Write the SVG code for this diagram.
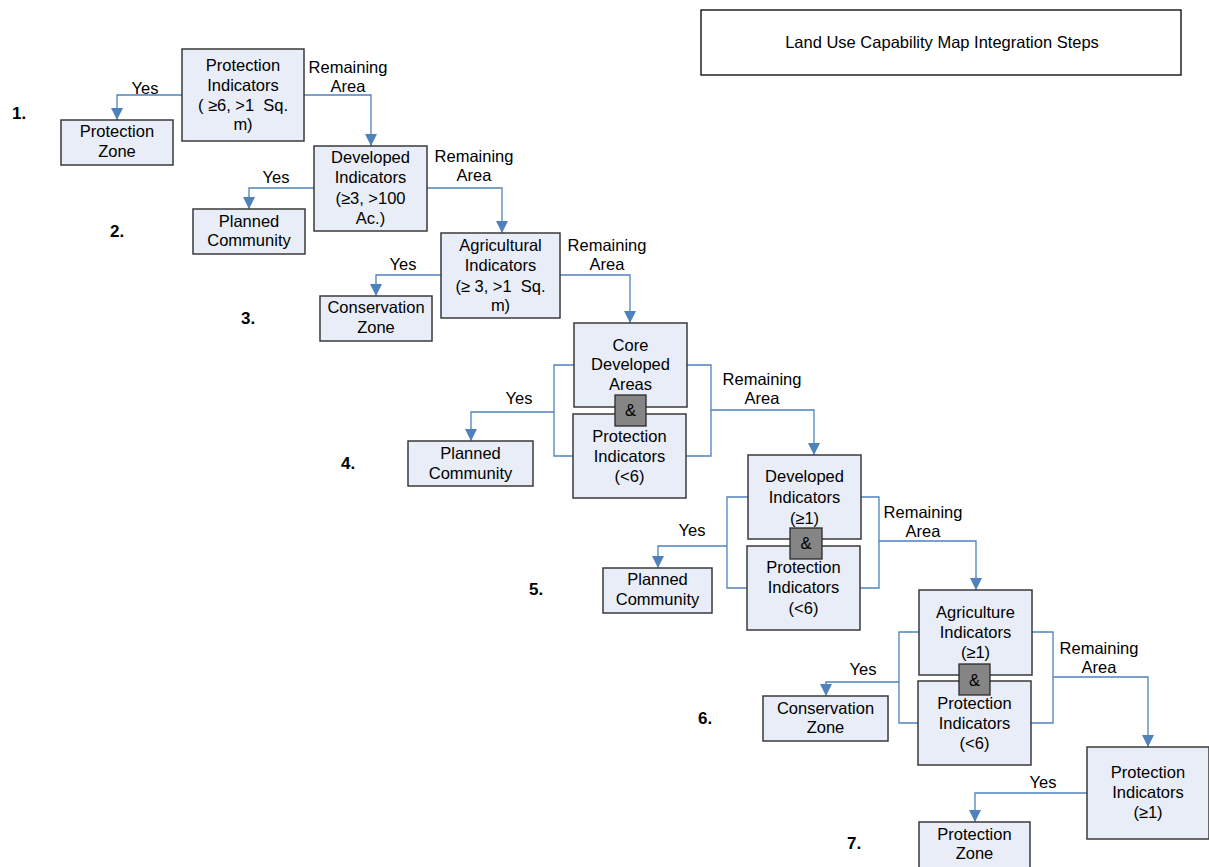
<svg xmlns="http://www.w3.org/2000/svg" width="1209" height="867" viewBox="0 0 1209 867">
<defs>
<style>
.box{fill:#E8EDF7;stroke:#3a3a3a;stroke-width:1.5}
.title{fill:#fff;stroke:#000;stroke-width:1.3}
.amp{fill:#858585;stroke:#2a2a2a;stroke-width:1.3}
.t{font-family:"Liberation Sans",Arial,sans-serif;font-size:16.5px;fill:#000;text-anchor:middle}
.n{font-family:"Liberation Sans",Arial,sans-serif;font-size:17px;font-weight:bold;fill:#000}
.c{fill:none;stroke:#4F81BD;stroke-width:1.3}
</style>
<marker id="ah" markerUnits="userSpaceOnUse" markerWidth="12" markerHeight="12" viewBox="0 0 12 12" refX="12" refY="6" orient="auto">
<path d="M0,0 L12,6 L0,12 Z" fill="#4F81BD"/>
</marker>
</defs>
<rect width="1209" height="867" fill="#fff"/>

<g id="title">
<rect class="title" x="701" y="10" width="480" height="65"/>
<text class="t" x="942" y="48">Land Use Capability Map Integration Steps</text>
</g>

<g id="connectors">
<path class="c" d="M182,95 H117 V120" marker-end="url(#ah)"/>
<path class="c" d="M304,95 H371 V146" marker-end="url(#ah)"/>
<path class="c" d="M314,188 H249 V209" marker-end="url(#ah)"/>
<path class="c" d="M427,188 H502 V233" marker-end="url(#ah)"/>
<path class="c" d="M441,275 H376 V296" marker-end="url(#ah)"/>
<path class="c" d="M560,275 H630 V323" marker-end="url(#ah)"/>
<path class="c" d="M574,365 H554 V456 H573"/>
<path class="c" d="M554,412 H471 V441" marker-end="url(#ah)"/>
<path class="c" d="M687,365 H711 V456 H686"/>
<path class="c" d="M711,410 H814 V455" marker-end="url(#ah)"/>
<path class="c" d="M748,497 H727 V588 H747"/>
<path class="c" d="M727,546 H658 V568" marker-end="url(#ah)"/>
<path class="c" d="M861,497 H879 V588 H860"/>
<path class="c" d="M879,541 H976 V590" marker-end="url(#ah)"/>
<path class="c" d="M919,632 H899 V723 H918"/>
<path class="c" d="M899,682 H826 V696" marker-end="url(#ah)"/>
<path class="c" d="M1032,632 H1053 V723 H1031"/>
<path class="c" d="M1053,677 H1148 V747" marker-end="url(#ah)"/>
<path class="c" d="M1087,793 H975 V822" marker-end="url(#ah)"/>
</g>

<g id="labels">
<text class="t" x="145" y="94">Yes</text>
<text class="t" x="348" y="73">Remaining</text>
<text class="t" x="348" y="92">Area</text>
<text class="t" x="276" y="183">Yes</text>
<text class="t" x="474" y="162">Remaining</text>
<text class="t" x="474" y="181">Area</text>
<text class="t" x="403" y="270">Yes</text>
<text class="t" x="607" y="251">Remaining</text>
<text class="t" x="607" y="270">Area</text>
<text class="t" x="519" y="404">Yes</text>
<text class="t" x="762" y="385">Remaining</text>
<text class="t" x="762" y="404">Area</text>
<text class="t" x="692" y="536">Yes</text>
<text class="t" x="923" y="518">Remaining</text>
<text class="t" x="923" y="537">Area</text>
<text class="t" x="863" y="675">Yes</text>
<text class="t" x="1099" y="654">Remaining</text>
<text class="t" x="1099" y="673">Area</text>
<text class="t" x="1043" y="788">Yes</text>
<text class="n" x="12" y="119">1.</text>
<text class="n" x="110" y="237">2.</text>
<text class="n" x="241" y="324">3.</text>
<text class="n" x="341" y="469">4.</text>
<text class="n" x="529" y="595">5.</text>
<text class="n" x="698" y="724">6.</text>
<text class="n" x="847" y="849">7.</text>
</g>

<g id="s1-protection-indicators">
<rect class="box" x="182" y="49" width="122" height="92"/>
<text class="t" x="243" y="71">Protection</text>
<text class="t" x="243" y="90.5">Indicators</text>
<text class="t" x="243" y="110.5" xml:space="preserve">( ≥6, &gt;1  Sq.</text>
<text class="t" x="243" y="130">m)</text>
</g>
<g id="s1-protection-zone">
<rect class="box" x="61" y="120" width="112" height="45"/>
<text class="t" x="117" y="137">Protection</text>
<text class="t" x="117" y="157">Zone</text>
</g>

<g id="s2-developed-indicators">
<rect class="box" x="314" y="146" width="113" height="85"/>
<text class="t" x="370.5" y="163">Developed</text>
<text class="t" x="370.5" y="183">Indicators</text>
<text class="t" x="370.5" y="204">(≥3, &gt;100</text>
<text class="t" x="370.5" y="224">Ac.)</text>
</g>
<g id="s2-planned-community">
<rect class="box" x="193" y="209" width="112" height="45"/>
<text class="t" x="249" y="227">Planned</text>
<text class="t" x="249" y="246">Community</text>
</g>

<g id="s3-agricultural-indicators">
<rect class="box" x="441" y="233" width="119" height="85"/>
<text class="t" x="500.5" y="251">Agricultural</text>
<text class="t" x="500.5" y="271">Indicators</text>
<text class="t" x="500.5" y="292" xml:space="preserve">(≥ 3, &gt;1  Sq.</text>
<text class="t" x="500.5" y="311">m)</text>
</g>
<g id="s3-conservation-zone">
<rect class="box" x="320" y="296" width="112" height="45"/>
<text class="t" x="376" y="313">Conservation</text>
<text class="t" x="376" y="333">Zone</text>
</g>

<g id="s4-core-developed-areas">
<rect class="box" x="574" y="323" width="113" height="84"/>
<text class="t" x="630.5" y="351">Core</text>
<text class="t" x="630.5" y="370">Developed</text>
<text class="t" x="630.5" y="390">Areas</text>
</g>
<g id="s4-protection-indicators">
<rect class="box" x="573" y="414" width="113" height="84"/>
<text class="t" x="629.5" y="442">Protection</text>
<text class="t" x="629.5" y="462">Indicators</text>
<text class="t" x="629.5" y="482">(&lt;6)</text>
</g>
<g id="s4-and">
<rect class="amp" x="615" y="395" width="31" height="31"/>
<text class="t" x="630.5" y="416">&amp;</text>
</g>
<g id="s4-planned-community">
<rect class="box" x="408" y="441" width="125" height="45"/>
<text class="t" x="470.5" y="459">Planned</text>
<text class="t" x="470.5" y="479">Community</text>
</g>

<g id="s5-developed-indicators">
<rect class="box" x="748" y="455" width="113" height="84"/>
<text class="t" x="804.5" y="482">Developed</text>
<text class="t" x="804.5" y="503">Indicators</text>
<text class="t" x="804.5" y="524">(≥1)</text>
</g>
<g id="s5-protection-indicators">
<rect class="box" x="747" y="546" width="113" height="84"/>
<text class="t" x="803.5" y="573">Protection</text>
<text class="t" x="803.5" y="593">Indicators</text>
<text class="t" x="803.5" y="614">(&lt;6)</text>
</g>
<g id="s5-and">
<rect class="amp" x="790" y="528" width="32" height="31"/>
<text class="t" x="806" y="549">&amp;</text>
</g>
<g id="s5-planned-community">
<rect class="box" x="603" y="568" width="109" height="45"/>
<text class="t" x="657.5" y="585">Planned</text>
<text class="t" x="657.5" y="605">Community</text>
</g>

<g id="s6-agriculture-indicators">
<rect class="box" x="919" y="590" width="113" height="85"/>
<text class="t" x="975.5" y="618">Agriculture</text>
<text class="t" x="975.5" y="638">Indicators</text>
<text class="t" x="975.5" y="658">(≥1)</text>
</g>
<g id="s6-protection-indicators">
<rect class="box" x="918" y="681" width="113" height="84"/>
<text class="t" x="974.5" y="709">Protection</text>
<text class="t" x="974.5" y="729">Indicators</text>
<text class="t" x="974.5" y="749">(&lt;6)</text>
</g>
<g id="s6-and">
<rect class="amp" x="959" y="664" width="31" height="31"/>
<text class="t" x="974.5" y="686">&amp;</text>
</g>
<g id="s6-conservation-zone">
<rect class="box" x="763" y="696" width="125" height="45"/>
<text class="t" x="825.5" y="714">Conservation</text>
<text class="t" x="825.5" y="733">Zone</text>
</g>

<g id="s7-protection-indicators">
<rect class="box" x="1087" y="747" width="122" height="92"/>
<text class="t" x="1148" y="778">Protection</text>
<text class="t" x="1148" y="798">Indicators</text>
<text class="t" x="1148" y="818">(≥1)</text>
</g>
<g id="s7-protection-zone">
<rect class="box" x="919" y="822" width="111" height="47"/>
<text class="t" x="974.5" y="840">Protection</text>
<text class="t" x="974.5" y="859">Zone</text>
</g>
</svg>
